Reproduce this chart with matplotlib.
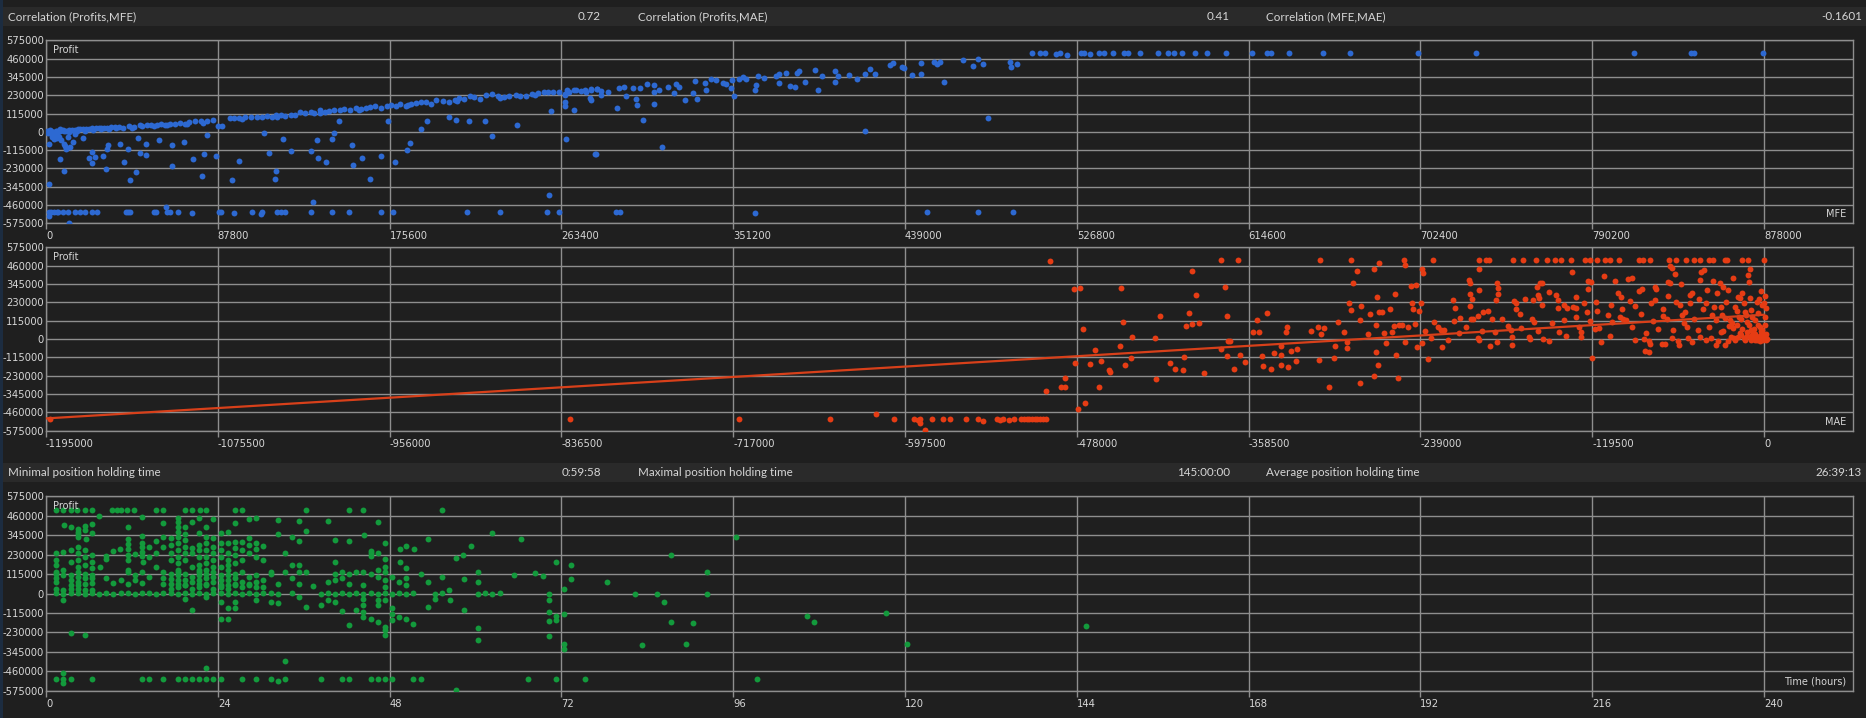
import numpy as np
import matplotlib.pyplot as plt
from matplotlib.patches import Rectangle

W, H = 1866, 718
BG = "#1f1f1f"
BAND = "#2a2a2a"
GRID = "#8e8e8e"
TXT = "#d6d6d6"
BLUE = "#2d69d2"
RED = "#e63c14"
GREEN = "#139a3c"
HEAD_FONT = ["Lato", "DejaVu Sans"]
TICK_FONT = ["Liberation Sans Narrow", "DejaVu Sans"]
DOT = 18

# header rows
corr_labels = ["Correlation (Profits,MFE)", "Correlation (Profits,MAE)", "Correlation (MFE,MAE)"]
corr_values = ["0.72", "0.41", "-0.1601"]
time_labels = ["Minimal position holding time", "Maximal position holding time",
               "Average position holding time"]
time_values = ["0:59:58", "145:00:00", "26:39:13"]

# axis ticks
profit_ticks = [-575000, -460000, -345000, -230000, -115000, 0,
                115000, 230000, 345000, 460000, 575000]
mfe_ticks = [0, 87800, 175600, 263400, 351200, 439000, 526800, 614600, 702400, 790200, 878000]
mae_ticks = [-1195000, -1075500, -956000, -836500, -717000, -597500,
             -478000, -358500, -239000, -119500, 0]
hour_ticks = [0, 24, 48, 72, 96, 120, 144, 168, 192, 216, 240]

# ---- panel 1: MFE (k) vs profit (k) ----
mfe_band = [0.4, 1.3, 2.3, 3.5, 4.9, 5.8, 7.4, 8.8, 10.1, 11.7, 13.3, 14.6, 16.2, 17.6, 19.1,
            20.5, 21.9, 23.4, 25.4, 27.0, 28.3, 29.7, 31.3, 33.2, 35.2, 37.1, 39.1, 42.6, 44.0,
            47.9, 49.3, 51.8, 53.8, 56.7, 58.7, 61.0, 63.5, 66.1, 68.4, 70.8, 73.3, 76.3, 79.2,
            82.1, 85.1, 88.0, 89.9, 93.9, 96.2, 98.8, 101.7, 104.6, 107.9, 110.5, 113.0, 115.4,
            117.7, 120.3, 122.2, 125.2, 127.5, 130.0, 132.6, 135.3, 136.9, 139.8, 142.4, 144.7,
            147.1, 150.2, 152.5, 155.5, 158.4, 160.8, 163.3, 165.8, 168.2, 171.1, 174.1, 176.4,
            179.0, 180.9, 183.8, 186.8, 189.3, 191.7, 194.0, 196.6, 199.5, 203.0, 205.8, 208.9,
            211.2, 213.6, 216.7, 219.0, 222.0, 224.9, 227.8, 230.8, 234.3, 236.6, 240.2, 242.5,
            245.4, 248.4, 251.3, 254.3, 256.6, 259.1, 262.1, 265.0, 267.5, 269.9, 273.4, 275.8,
            278.7, 281.6,
            265.0, 266.2, 270.9, 275.6, 278.6, 281.4, 283.8, 287.3, 292.7, 295.5, 300.2, 303.7,
            307.2, 310.8, 313.1, 317.8, 321.8, 323.7, 331.9, 336.6, 340.1, 342.5, 346.0, 347.6,
            350.7, 354.2, 356.1, 357.7, 364.0, 367.1, 373.0, 374.8, 378.4, 384.0, 384.7, 387.7,
            392.9, 396.4, 403.5, 404.6, 410.5, 414.7, 418.7, 421.3, 423.7, 431.6, 432.8, 437.5,
            438.7, 442.7, 447.4, 447.4, 453.9, 455.6, 457.0, 468.7, 473.9, 476.2, 479.0, 492.6,
            493.4, 496.2]
profit_band = [-2, 2, 6, 0, 4, 8, 6, 10, 8, 13, 10, 13, 15, 17, 15, 19, 17, 21, 23, 21, 25, 27,
               25, 29, 31, 29, 25, 34, 27, 42, 38, 42, 40, 42, 48, 44, 52, 50, 54, 46, 59, 65,
               67, 71, 75, 34, 38, 84, 86, 88, 92, 94, 90, 96, 100, 94, 103, 107, 100, 107, 105,
               125, 121, 123, 117, 134, 126, 128, 138, 138, 142, 138, 149, 144, 149, 155, 159,
               149, 163, 167, 163, 176, 163, 174, 180, 188, 190, 176, 197, 195, 190, 201, 211,
               205, 222, 218, 207, 232, 236, 226, 218, 226, 230, 222, 228, 236, 243, 247, 249,
               251, 247, 238, 253, 263, 259, 253, 263, 268,
               230, 261, 263, 261, 272, 272, 257, 251, 278, 284, 278, 274, 299, 295, 263, 282,
               299, 284, 320, 309, 330, 324, 309, 303, 324, 330, 347, 330, 351, 335, 351, 362,
               368, 372, 383, 316, 389, 351, 383, 351, 355, 330, 362, 395, 366, 418, 431, 408,
               404, 358, 435, 362, 439, 427, 441, 454, 416, 460, 424, 439, 406, 424]
mfe_profit_cluster = [(0.5, 5), (1.0, -8), (2.0, 12), (3.0, -5), (5.0, -2), (7.0, 15), (9.0, 2),
                      (12.0, 0), (16.0, 5), (20.0, 8), (24.0, 12), (28.0, 15), (32.0, 18),
                      (36.0, 22), (3.0, -20), (4.5, -15), (6.0, -25), (11.0, -30), (15.0, -12),
                      (2.9, -33), (3.9, -46), (5.4, -40), (6.8, -33), (7.8, -50), (9.8, -92),
                      (45.0, 30), (55.0, 36), (62.0, 40), (72.0, 50), (80.0, 58), (100.0, 80),
                      (118.0, 96), (140.0, 118), (160.0, 140), (185.0, 168), (210.0, 196),
                      (232.0, 214), (250.0, 232)]
mfe_profit_low = [(1.6, -79), (1.6, -328), (6.9, -174), (9.0, -245), (9.0, -79), (10.4, -109),
                  (12.5, -98), (13.9, -63), (18.7, -38), (22.2, -167), (23.4, -199), (23.6, -125),
                  (25.2, -157), (28.9, -153), (30.6, -236), (31.0, -105), (31.5, -84), (38.0, -77),
                  (40.0, -188), (42.1, -105), (42.9, -303), (45.9, -255), (47.0, -42), (48.0, -132),
                  (50.9, -146), (50.9, -79), (57.9, -52), (64.4, -213), (64.6, -86), (70.6, -63),
                  (75.3, -174), (79.7, -276), (81.0, -142), (82.5, -23), (86.9, -153), (95.2, -303),
                  (98.4, -186), (111.4, -10), (113.9, -132), (116.9, -299), (117.7, -247),
                  (121.3, -46), (125.0, -121), (135.3, -121), (138.5, -52), (138.9, -165),
                  (143.3, -188), (146.3, -46), (147.3, -10), (156.3, -82), (156.8, -209),
                  (161.4, -165), (165.6, -299), (171.4, -153), (178.5, -192), (184.4, -115),
                  (185.8, -69), (228.1, -25), (265.8, -46), (61.2, -470), (136.7, -443),
                  (257.3, -399), (1.4, -529), (12.0, -572), (280.7, -140),
                  (149.6, 71), (175.0, 71), (191.7, 17), (194.6, 71), (205.8, 92), (209.3, 75),
                  (216.1, 71), (224.5, 67), (240.6, 42), (258.2, 132), (269.9, 138), (265.0, 159),
                  (265.5, 190), (277.9, 215), (278.6, 199), (283.8, 230), (292.0, 148),
                  (296.2, 226), (301.4, 205), (301.8, 169), (304.9, 77), (310.8, 174), (310.8, 247),
                  (320.9, 243), (326.7, 201), (330.5, 243), (332.8, 209), (337.3, 263),
                  (350.0, 274), (351.8, 226), (362.4, 263), (362.9, 295), (374.8, 309),
                  (380.0, 289), (382.6, 282), (394.5, 263), (403.5, 316), (458.9, 314),
                  (481.6, 84), (418.7, 4), (281.0, -140), (314.7, -98)]
mfe_profit_cap = [(503.9, 493), (507.9, 493), (510.7, 493), (516.1, 490), (518.0, 495),
                  (521.8, 481), (529.0, 493), (530.7, 495), (533.7, 490), (538.4, 493),
                  (540.8, 493), (545.5, 493), (550.9, 493), (553.2, 493), (559.1, 493),
                  (568.5, 493), (573.6, 493), (576.4, 493), (580.7, 493), (587.2, 493),
                  (593.6, 493), (603.0, 493), (616.6, 493), (624.1, 493), (626.0, 493),
                  (635.2, 493), (652.6, 493), (666.3, 493), (701.1, 493), (731.0, 493),
                  (811.5, 494), (840.6, 493), (842.1, 493), (877.6, 493)]
mfe_profit_floor = [(1.4, -506), (2.8, -506), (4.0, -506), (5.5, -506), (6.3, -506), (8.6, -506),
                    (11.1, -506), (14.8, -506), (17.4, -506), (19.9, -506), (23.4, -506),
                    (26.0, -506), (41.0, -506), (41.7, -506), (42.8, -506), (55.3, -506),
                    (56.3, -506), (61.8, -506), (63.2, -506), (67.6, -506), (74.4, -508),
                    (88.2, -506), (89.6, -506), (95.9, -508), (105.4, -506), (109.8, -516),
                    (110.5, -506), (118.1, -506), (120.2, -504), (122.0, -506), (135.3, -506),
                    (146.4, -506), (154.9, -506), (171.4, -506), (177.4, -506), (215.2, -506),
                    (231.8, -506), (256.2, -506), (262.4, -506), (291.3, -504), (293.6, -504),
                    (362.6, -510), (450.2, -504), (476.5, -504), (494.3, -506)]

# ---- panel 2: MAE (k) vs profit (k) ----
mae_profit_cap = [(-496.8, 491), (-377.5, 493), (-366.1, 493), (-308.9, 493), (-287.4, 493),
                  (-250.6, 493), (-230.2, 493), (-198.1, 493), (-193.4, 493), (-190.9, 493),
                  (-174.8, 493), (-167.7, 493), (-158.7, 493), (-150.9, 493), (-145.5, 493),
                  (-140.9, 493), (-134.4, 493), (-124.1, 493), (-121.2, 493), (-115.8, 493),
                  (-110.5, 493), (-106.9, 493), (-100.8, 493), (-87.2, 493), (-84.4, 493),
                  (-79.4, 493), (-65.8, 493), (-61.1, 493), (-54.3, 493), (-48.6, 493),
                  (-44.3, 493), (-37.9, 493), (-35.4, 493), (-27.2, 493), (-25.4, 493),
                  (-15.0, 493), (-11.1, 493), (0.0, 493)]
mae_profit_floor = [(-1192.4, -504), (-830.3, -504), (-712.8, -504), (-649.3, -504),
                    (-617.4, -468), (-604.9, -504), (-591.2, -502), (-588.7, -508),
                    (-586.7, -504), (-586.9, -527), (-583.8, -572), (-578.8, -504),
                    (-570.8, -504), (-565.9, -502), (-555.2, -502), (-547.0, -504),
                    (-543.5, -516), (-533.5, -504), (-531.5, -508), (-529.0, -504),
                    (-524.8, -508), (-521.6, -504), (-516.6, -504), (-514.6, -504),
                    (-512.8, -504), (-511.1, -504), (-509.1, -504), (-507.1, -504),
                    (-505.3, -504), (-503.6, -504), (-501.6, -504), (-499.6, -504)]
mae_profit_mid = [(-499.1, -328), (-489.2, -301), (-485.9, -299), (-485.9, -245), (-479.2, -153),
                  (-479.7, 316), (-475.4, 322), (-477.0, -441), (-473.7, 61), (-472.2, -399),
                  (-468.5, -155), (-465.0, -67), (-462.8, -299), (-461.0, -140), (-455.8, -194),
                  (-455.0, -209), (-448.1, -44), (-447.4, 320),
                  (-397.5, 427), (-394.7, 278), (-374.7, 328), (-399.7, 163), (-420.1, 142),
                  (-373.2, 142), (-402.2, 79), (-397.9, 92), (-392.9, 98), (-445.8, 105),
                  (-439.4, 15), (-423.3, 8), (-371.4, -10), (-372.5, -15), (-377.5, -61),
                  (-440.4, -121), (-444.7, -165), (-412.9, -153), (-403.2, -111), (-409.7, -188),
                  (-404.0, -192), (-422.9, -253), (-389.3, -213), (-373.2, -109), (-364.3, -102),
                  (-360.7, -144), (-368.6, -188),
                  (-355.7, 42), (-351.4, 44), (-352.5, 117), (-345.3, 165), (-349.3, -105),
                  (-348.2, -171), (-343.2, -186), (-341.1, -86), (-335.7, -44), (-335.7, -100),
                  (-336.0, -161), (-331.8, 75), (-332.1, 46), (-331.1, -174), (-329.0, -75),
                  (-325.0, -63), (-325.4, -140), (-315.3, 52), (-310.3, 77), (-305.7, 71),
                  (-308.2, 33), (-309.7, -132), (-302.4, -301), (-298.4, -44), (-298.8, -121),
                  (-296.0, 107), (-292.1, 42), (-290.3, -56), (-290.3, -21), (-288.5, 226),
                  (-287.4, 180), (-286.0, 353), (-283.1, 427), (-281.0, 119), (-280.3, 209),
                  (-281.0, -274), (-275.6, 33), (-273.9, 159), (-271.0, 441), (-269.2, 263),
                  (-269.6, 86), (-269.6, -82), (-268.1, -165), (-267.8, 479), (-267.4, 171),
                  (-265.3, 171), (-271.3, -234), (-264.2, 36), (-263.1, -27), (-260.3, 186),
                  (-258.8, 46), (-257.0, 82), (-253.5, 86), (-256.7, 280), (-255.6, -98),
                  (-254.6, -247), (-252.0, 86), (-247.7, 77), (-249.5, 462), (-249.9, -17),
                  (-245.2, 335), (-242.0, 339), (-244.9, 228), (-244.2, 186), (-242.4, 92),
                  (-241.3, -50), (-240.2, 176)]
mae_profit_dense = [(-237.7, 437), (-237.0, 412), (-238.5, 226), (-238.1, -27), (-236.0, 52),
                    (-233.8, -128), (-231.3, 4), (-229.5, 107), (-226.7, 73), (-224.5, 59),
                    (-222.7, 56), (-224.2, -52), (-219.9, -6), (-216.0, 243), (-214.9, 192),
                    (-215.6, 113), (-212.0, 40), (-211.3, 134), (-207.0, 77), (-205.2, 368),
                    (-204.5, 351), (-204.5, 282), (-203.1, 249), (-204.1, 207), (-203.4, 128),
                    (-202.3, 125), (-199.1, 142), (-198.1, 305), (-198.4, 437), (-198.8, 8),
                    (-198.1, -6), (-195.2, 169), (-191.6, 176), (-195.9, 52), (-190.5, -42),
                    (-188.8, 128), (-187.0, 44), (-185.5, 349), (-184.8, 318), (-184.8, 282),
                    (-186.3, 245), (-185.9, -21), (-182.0, 128), (-177.7, 82), (-176.2, 56),
                    (-175.5, 13), (-175.2, -38), (-173.7, 236), (-172.3, 224), (-172.7, 188),
                    (-169.5, 157), (-168.7, 69), (-165.9, 249), (-163.4, 13), (-163.0, -2),
                    (-161.2, 128), (-159.8, 105), (-160.9, 243), (-157.7, 328), (-155.5, 349),
                    (-154.1, 353), (-156.9, 276), (-156.6, 255), (-156.9, 52), (-154.5, 211),
                    (-153.4, 0), (-149.8, 297), (-149.4, -13), (-147.3, 102), (-144.4, 274),
                    (-143.0, 245), (-143.4, 192), (-142.6, 46), (-139.1, 211), (-136.9, 192),
                    (-138.7, 119), (-138.0, 19), (-133.3, 418), (-132.6, 199), (-130.8, 192),
                    (-130.8, 261), (-130.8, 140), (-128.3, 77), (-127.3, 46), (-126.9, 15),
                    (-124.8, 224), (-123.0, 171), (-122.3, 362), (-120.5, 355), (-122.3, 312),
                    (-121.2, 111), (-117.6, 61), (-119.8, -121), (-116.9, 234), (-115.8, 176),
                    (-114.8, 67), (-113.0, -19), (-111.2, 395), (-108.7, 151), (-106.9, 19),
                    (-106.2, 211), (-105.5, 109), (-103.3, 362), (-101.2, 286), (-99.7, 266),
                    (-99.0, 186), (-98.0, 128), (-96.2, 119), (-94.4, 374), (-91.9, 381),
                    (-93.3, 240), (-91.9, 73), (-89.7, 209), (-86.9, 303), (-84.7, 316),
                    (-85.4, 157), (-83.3, 0), (-82.9, -75), (-79.7, -79), (-81.9, 40),
                    (-79.4, -31), (-78.3, 228), (-75.5, 245), (-77.2, 113), (-75.5, 328),
                    (-74.7, 312), (-74.0, 61), (-71.1, -31), (-68.6, -33), (-70.1, 144),
                    (-67.6, 123), (-66.5, 360), (-65.4, 349), (-65.4, 458), (-64.0, 447),
                    (-66.5, 270), (-64.0, 8), (-62.9, 56), (-61.8, 406), (-60.8, 232),
                    (-58.6, 211), (-59.3, -38), (-57.6, 343), (-56.8, 151), (-55.4, 98),
                    (-53.3, 73), (-52.6, 8), (-51.1, 276), (-49.7, 286), (-51.1, 224),
                    (-48.3, 128), (-46.1, 56), (-44.3, 15), (-44.7, 370), (-43.6, 422),
                    (-41.8, 433), (-42.5, 186), (-40.4, 224), (-39.7, 307), (-38.3, 73),
                    (-36.8, 6), (-35.4, 366), (-36.1, 151), (-33.6, 119), (-32.5, 286),
                    (-30.7, 353), (-28.2, 328), (-30.0, 203), (-30.0, 46), (-28.2, 52),
                    (-29.0, 151), (-27.2, 130), (-26.1, 234), (-24.7, 307), (-23.6, 119),
                    (-22.5, 98), (-21.4, 67), (-22.9, 15), (-21.1, 4), (-21.8, 385),
                    (-20.0, 203), (-18.9, 178), (-18.2, 266), (-16.8, 255), (-17.5, 140),
                    (-16.1, 123), (-16.8, 40), (-15.7, 25), (-15.0, 291), (-13.9, 224),
                    (-12.9, 171), (-12.2, 151), (-11.8, 107), (-10.7, 88), (-11.1, 401),
                    (-10.4, 360), (-10.0, 437), (-9.7, 255), (-8.9, 56), (-7.9, 36), (-6.8, 10),
                    (-7.5, 4), (-6.1, -2), (-5.0, -6), (-3.9, 2), (-2.9, -10), (-1.8, -2),
                    (-0.7, -6), (0.0, 2), (1.4, -6), (-5.0, 234), (-3.2, 249), (-1.4, 213),
                    (0.0, 224), (1.4, 192), (0.7, 136), (-3.9, 88), (-2.5, 73), (-1.1, 56),
                    (1.1, 88), (-0.4, 31), (-8.6, 136), (-6.1, 119), (-3.9, 161),
                    (-18.0, 10), (-14.0, 5), (-12.0, 20), (-9.0, -4), (-4.0, 12), (-2.0, 25),
                    (1.0, 10), (-1.0, 40), (2.0, -2), (-6.0, 30), (-13.0, -8), (-25.0, -10),
                    (-20.0, -6), (-90.0, -8), (-80.0, -12), (-60.0, -14), (-50.0, -20),
                    (-40.0, -5), (-33.0, -40), (-27.0, -38), (-32.0, -15),
                    (-10.0, 14), (-8.0, 22), (-6.5, -8), (-4.5, 6), (-3.0, 18), (-1.5, 8),
                    (0.5, 20), (1.5, 30), (-2.0, 48), (-7.0, 64), (-12.0, 45), (-15.0, 60),
                    (-19.0, 90), (-24.0, 80), (-9.0, 180), (-2.0, 300), (0.5, 270),
                    (-35.0, 200), (-45.0, 250), (-55.0, 170), (-70.0, 190), (-100.0, 140)]
trend_mae = [-1195.0, 0.0]
trend_profit = [-498.0, 152.0]

# ---- panel 3: holding time (h) vs profit (k) ----
hours_profit_cap = [(1.37, 494), (2.43, 494), (3.43, 494), (4.36, 494), (5.42, 494), (6.36, 494),
                    (9.29, 494), (9.92, 494), (10.41, 494), (11.35, 494), (12.28, 494),
                    (15.40, 494), (16.40, 494), (19.40, 494), (20.39, 494), (21.45, 494),
                    (22.39, 494), (26.44, 494), (27.32, 494), (36.36, 494), (42.35, 494),
                    (44.34, 494), (55.38, 494), (7.42, 460), (13.41, 454)]
hours_profit_high = [(2.49, 403), (3.43, 395), (4.43, 381), (4.43, 366), (4.43, 352), (4.43, 336),
                     (5.42, 399), (5.42, 375), (6.42, 411), (6.42, 356), (5.55, 320), (8.42, 223),
                     (8.42, 204), (7.48, 158), (9.35, 253), (10.35, 263), (11.41, 391),
                     (11.41, 320), (11.41, 292), (11.41, 265), (11.41, 229), (11.41, 198),
                     (11.41, 138), (12.41, 231), (13.41, 340), (13.41, 296), (13.41, 277),
                     (13.41, 247), (13.41, 221), (13.53, 188), (14.41, 273), (14.41, 217),
                     (15.40, 312), (15.40, 237), (15.40, 158), (16.40, 415), (16.40, 336),
                     (16.40, 277), (17.40, 326), (17.40, 287), (17.40, 237), (17.40, 198),
                     (18.40, 445), (18.40, 425), (18.40, 395), (18.40, 366), (18.40, 336),
                     (18.40, 296), (18.40, 257), (18.40, 217), (18.40, 178), (18.40, 138),
                     (19.40, 395), (19.40, 352), (19.40, 316), (19.40, 277), (19.40, 237),
                     (19.40, 198), (20.39, 425), (20.39, 267), (20.39, 237), (20.39, 158),
                     (21.39, 445), (21.39, 356), (21.39, 287), (21.39, 257), (21.39, 217),
                     (21.39, 168), (21.39, 128), (22.39, 395), (22.39, 336), (22.39, 296),
                     (22.39, 257), (22.39, 217), (22.39, 178), (22.39, 138), (23.39, 439),
                     (23.39, 326), (23.39, 277), (23.39, 237), (23.39, 198), (23.39, 158),
                     (24.38, 356), (24.38, 296), (24.38, 257), (24.38, 217), (24.38, 158),
                     (25.38, 366), (25.38, 296), (25.38, 237), (25.38, 198), (25.38, 168),
                     (26.38, 415), (26.38, 306), (26.38, 267), (26.38, 227), (26.38, 182),
                     (27.44, 306), (27.44, 257), (27.44, 198), (28.38, 439), (28.38, 330),
                     (28.38, 287), (28.38, 237), (29.37, 445), (29.37, 296), (29.37, 261),
                     (29.37, 217), (30.37, 281), (30.37, 198), (31.37, 128), (32.37, 435),
                     (32.37, 350), (33.37, 241), (34.36, 336), (34.36, 168), (35.36, 427),
                     (35.36, 312), (35.36, 168), (36.36, 370), (39.35, 427), (40.35, 314),
                     (40.35, 188), (42.35, 312), (44.40, 346), (45.34, 253), (45.34, 237),
                     (45.34, 221), (46.40, 425), (46.40, 237), (47.40, 296), (47.40, 207),
                     (47.40, 158), (49.40, 261), (50.33, 281), (50.33, 148), (51.39, 261),
                     (49.40, 188), (53.39, 322), (57.32, 211), (58.32, 227), (59.37, 283),
                     (62.30, 356), (66.36, 322),
                     (1.37, 237), (1.37, 198), (1.37, 168), (1.37, 128), (2.43, 247), (3.43, 257),
                     (3.43, 188), (4.43, 277), (4.43, 237), (4.43, 198), (4.43, 158), (5.42, 257),
                     (5.42, 217), (5.42, 168), (6.42, 227), (6.42, 188), (6.42, 148)]
hours_profit_low = [(1.37, 118), (1.37, 89), (1.37, 69), (2.43, 138), (2.43, 109), (3.43, 109),
                    (3.43, 79), (3.43, 49), (4.43, 128), (4.43, 99), (4.43, 69), (4.43, 49),
                    (5.42, 118), (5.42, 89), (5.42, 59), (6.42, 109), (6.42, 89), (6.42, 63),
                    (8.42, 89), (9.42, 63), (10.41, 79), (11.41, 128), (11.41, 59), (12.41, 109),
                    (12.41, 79), (13.41, 128), (13.41, 63), (14.41, 99), (16.40, 128),
                    (16.40, 89), (16.40, 59), (17.40, 118), (17.40, 83), (17.40, 59),
                    (18.40, 128), (18.40, 109), (18.40, 79), (18.40, 59), (19.40, 118),
                    (19.40, 79), (19.40, 49), (20.39, 99), (20.39, 69), (21.39, 138),
                    (21.39, 109), (21.39, 79), (21.39, 59), (22.39, 118), (22.39, 89),
                    (22.39, 59), (23.39, 128), (23.39, 99), (23.39, 69), (24.38, 109),
                    (24.38, 79), (24.38, 49), (25.38, 138), (25.38, 109), (25.38, 79),
                    (25.38, 49), (26.38, 118), (26.38, 89), (26.38, 59), (27.38, 128),
                    (27.38, 69), (28.38, 99), (28.38, 59), (29.37, 109), (29.37, 69),
                    (30.37, 79), (30.37, 39), (31.37, 118), (32.37, 59), (33.37, 128),
                    (34.36, 89), (35.36, 128), (35.36, 59), (36.36, 128), (37.36, 45),
                    (39.35, 69), (40.35, 118), (40.35, 79), (41.35, 128), (41.35, 89),
                    (42.35, 118), (42.35, 59), (43.35, 128), (44.34, 128), (44.34, 49),
                    (45.34, 118), (46.34, 138), (46.34, 99), (47.34, 128), (47.34, 79),
                    (47.34, 39), (48.33, 99), (49.33, 69), (50.33, 89), (50.33, 49),
                    (52.33, 118), (53.32, 69), (55.32, 99), (56.32, 20), (58.37, 83),
                    (60.37, 128), (60.37, 69), (65.36, 109), (68.35, 122),
                    (1.37, 29), (2.43, 20), (3.43, 29), (4.43, 29), (5.42, 20), (6.42, 20),
                    (17.40, 29), (18.40, 39), (19.40, 49), (20.39, 29), (21.39, 39), (22.39, 49),
                    (23.39, 29), (24.38, 39), (25.38, 29), (26.38, 49), (27.38, 39), (28.38, 49),
                    (29.37, 39)]
hours_profit_zero = [(1.37, 2), (2.43, 0), (3.43, 4), (4.43, 2), (5.42, -2), (6.42, 2), (7.42, 0),
                     (8.42, 2), (9.42, 0), (10.41, 2), (11.41, 4), (12.41, 0), (13.41, 2),
                     (14.41, 2), (15.40, 0), (16.40, 2), (17.40, 4), (18.40, 0), (19.40, 2),
                     (20.39, -2), (21.39, 2), (22.39, 0), (23.39, 2), (24.38, 4), (25.38, 0),
                     (26.38, 2), (27.38, -2), (28.38, 2), (29.37, 0), (30.37, 2), (31.37, 2),
                     (32.37, 0), (34.36, 2), (38.36, 0), (39.35, 2), (40.35, 0), (41.35, 2),
                     (42.35, -2), (43.35, 2), (44.34, 0), (45.34, 2), (46.34, 0), (47.34, 2),
                     (48.33, 0), (49.33, 2), (50.33, 0), (51.33, 2), (54.32, 0), (55.32, 2),
                     (60.37, 0), (61.37, 2), (62.37, 0), (63.37, 2)]
hours_profit_neg = [(2.43, -36), (19.40, -30), (22.39, -20), (24.38, -50), (25.38, -83),
                    (26.38, -83), (26.38, -50), (29.37, -40), (31.37, -50), (32.37, -59),
                    (35.36, -20), (36.36, -79), (38.35, -69), (39.35, -40), (40.35, -50),
                    (41.35, -103), (42.35, -188), (43.35, -99), (44.34, -30), (44.34, -69),
                    (44.34, -109), (44.34, -138), (45.34, -148), (46.34, -40), (46.34, -69),
                    (46.34, -168), (47.34, -198), (47.34, -217), (47.34, -247), (47.34, -40),
                    (48.33, -83), (48.33, -119), (48.33, -154), (49.33, -138), (50.33, -150),
                    (51.33, -182), (53.32, -79), (54.32, -34), (56.38, -36), (58.37, -99),
                    (60.37, -207), (60.37, -273), (3.43, -233), (5.42, -247), (20.39, -95),
                    (24.38, -152), (25.38, -152), (33.37, -399), (22.39, -443), (2.43, -470),
                    (2.43, -530), (32.37, -518), (57.32, -572)]
hours_profit_floor = [(1.37, -506), (2.43, -506), (3.43, -506), (6.42, -506), (13.41, -506),
                      (14.41, -506), (16.40, -506), (18.40, -506), (19.40, -506), (20.39, -506),
                      (21.39, -506), (22.39, -506), (23.39, -506), (24.38, -506), (27.38, -506),
                      (29.37, -506), (31.37, -506), (33.37, -506), (38.36, -506), (41.35, -506),
                      (42.35, -506), (45.34, -506), (46.34, -506), (47.34, -506), (48.33, -506),
                      (51.33, -506), (52.33, -506), (67.36, -506)]
hours_profit_late = [(69.37, 104), (71.31, 189), (73.37, 170), (73.37, 87), (72.34, 24),
                     (70.34, -4), (70.34, -36), (70.34, -107), (71.31, -134), (71.31, -156),
                     (72.34, -122), (70.34, -164), (70.34, -253), (72.34, -300), (72.34, -328),
                     (71.31, -504), (75.31, -508), (78.34, 69), (82.34, -4), (85.37, -4),
                     (86.40, -53), (87.37, 227), (87.37, -166), (89.37, -300), (90.34, -174),
                     (92.34, 130), (92.34, -4), (83.31, -302), (96.40, 336), (99.37, -504),
                     (106.33, -132), (107.36, -166), (117.30, -113), (120.33, -298),
                     (145.29, -194)]


def fx(px):
    return px / W


def fy(py):
    return 1 - py / H


def header(y0, y1, labels, values):
    fig.add_artist(Rectangle((0, fy(y1)), 1, (y1 - y0) / H, transform=fig.transFigure,
                             facecolor=BAND, lw=0, zorder=0))
    yc = fy((y0 + y1) / 2)
    for lx, vx, lab, val in zip([7.7, 637.5, 1266], [601, 1230, 1862], labels, values):
        fig.text(fx(lx), yc, lab, ha="left", va="center", fontsize=8.4, color=TXT,
                 family=HEAD_FONT)
        fig.text(fx(vx), yc, val, ha="right", va="center", fontsize=8.4, color=TXT,
                 family=HEAD_FONT)


def panel(top, bottom, xticks, xlim, name):
    ax = fig.add_axes([fx(46), fy(bottom), fx(1853.4) - fx(46), (bottom - top) / H])
    ax.set_facecolor(BG)
    for s in ax.spines.values():
        s.set_color(GRID)
        s.set_linewidth(1)
    ax.grid(True, color=GRID, lw=1)
    ax.set_axisbelow(True)
    ax.set_ylim(-575000, 575000)
    ax.set_xlim(*xlim)
    ax.set_yticks(profit_ticks)
    ax.set_yticklabels([str(t) for t in profit_ticks], family=TICK_FONT)
    ax.set_xticks(xticks)
    ax.set_xticklabels([str(t) for t in xticks], ha="left", family=TICK_FONT)
    ax.tick_params(axis="y", length=0, pad=1.5, labelsize=7.2, labelcolor=TXT)
    ax.tick_params(axis="x", direction="out", length=4.6, width=1, color=GRID, pad=1.2,
                   labelsize=7.2, labelcolor=TXT)
    fig.text(fx(53.5), fy(top + 10), "Profit", ha="left", va="center", fontsize=7,
             color=TXT, family=TICK_FONT)
    fig.text(fx(1846), fy(bottom - 9), name, ha="right", va="center", fontsize=7,
             color=TXT, family=TICK_FONT)
    return ax


def dots(ax, pairs, color, xs=1000.0):
    arr = np.array(pairs, dtype=float)
    ax.scatter(arr[:, 0] * xs, arr[:, 1] * 1000, s=DOT, color=color, linewidths=0, zorder=3)


fig = plt.figure(figsize=(W / 100, H / 100), dpi=100, facecolor=BG)
fig.add_artist(Rectangle((0, 0), fx(2.5), 1, transform=fig.transFigure,
                         facecolor="#1c2c40", lw=0, zorder=5))

header(7.3, 26.0, corr_labels, corr_values)
header(462.7, 481.7, time_labels, time_values)

ax1 = panel(40.3, 223.3, mfe_ticks, (0, 923740), "MFE")
ax1.scatter(np.array(mfe_band) * 1000, np.array(profit_band) * 1000, s=DOT, color=BLUE,
            linewidths=0, zorder=3)
for grp in [mfe_profit_cluster, mfe_profit_low, mfe_profit_cap, mfe_profit_floor]:
    dots(ax1, grp, BLUE)

ax2 = panel(247.3, 430.7, mae_ticks, (-1195000, 62270), "MAE")
for grp in [mae_profit_cap, mae_profit_floor, mae_profit_mid, mae_profit_dense]:
    dots(ax2, grp, RED)
ax2.plot(np.array(trend_mae) * 1000, np.array(trend_profit) * 1000, color="#d8401a", lw=1.6,
         zorder=4)

ax3 = panel(496.3, 690.7, hour_ticks, (0, 252.5), "Time (hours)")
for grp in [hours_profit_cap, hours_profit_high, hours_profit_low, hours_profit_zero,
            hours_profit_neg, hours_profit_floor, hours_profit_late]:
    dots(ax3, grp, GREEN, xs=1.0)

fig.savefig("out.png", dpi=100, facecolor=BG)
